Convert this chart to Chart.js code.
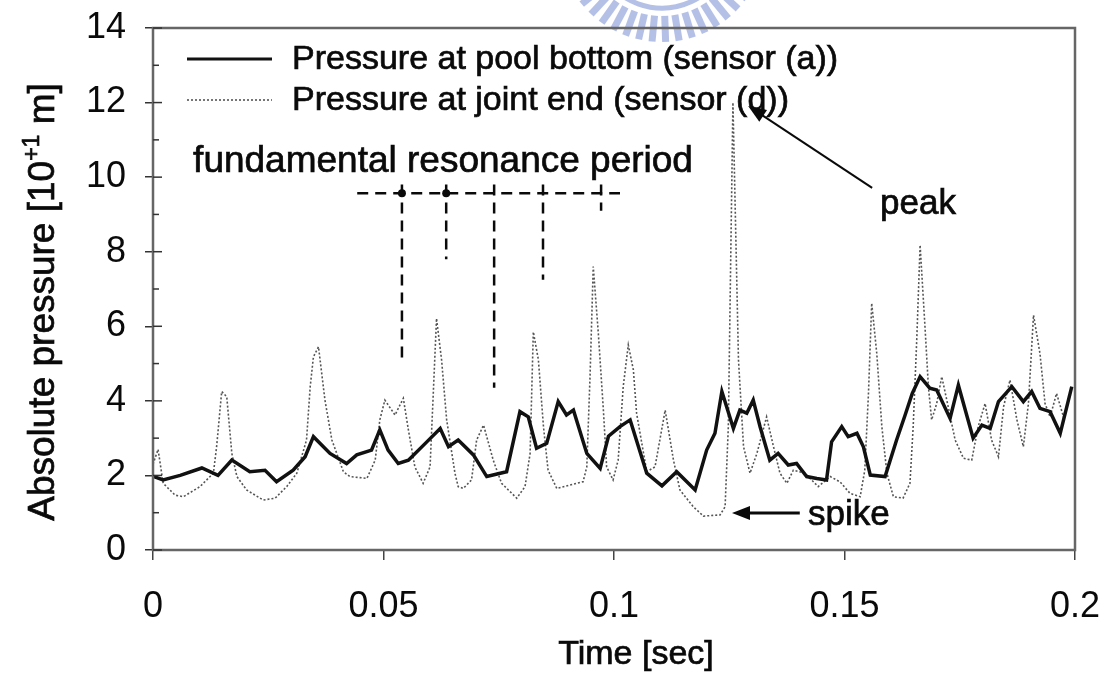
<!DOCTYPE html>
<html>
<head>
<meta charset="utf-8">
<script src="https://cdn.jsdelivr.net/npm/chart.js@4.4.0/dist/chart.umd.min.js"></script>
<style>
  html, body { margin: 0; padding: 0; background: #fff; }
  #wrap { width: 1112px; height: 679px; position: relative; }
</style>
</head>
<body>
<div id="wrap"><canvas id="chart"></canvas></div>
<script>
// Sensor (a): pressure at pool bottom (solid line)
var timeA = [
  0.0002, 0.0022, 0.0059, 0.0106, 0.0141, 0.0171, 0.0210, 0.0243, 0.0268, 0.0304,
  0.0330, 0.0348, 0.0384, 0.0420, 0.0442, 0.0474, 0.0492, 0.0510, 0.0532, 0.0554,
  0.0594, 0.0623, 0.0641, 0.0662, 0.0695, 0.0724, 0.0767, 0.0796, 0.0814, 0.0832,
  0.0854, 0.0879, 0.0897, 0.0912, 0.0941, 0.0970, 0.0988, 0.1013, 0.1035, 0.1071,
  0.1104, 0.1136, 0.1176, 0.1201, 0.1219, 0.1234, 0.1259, 0.1273, 0.1288, 0.1302,
  0.1317, 0.1338, 0.1356, 0.1378, 0.1396, 0.1418, 0.1440, 0.1461, 0.1472, 0.1494,
  0.1508, 0.1527, 0.1541, 0.1556, 0.1588, 0.1613, 0.1631, 0.1647, 0.1664, 0.1685,
  0.1700, 0.1729, 0.1747, 0.1779, 0.1798, 0.1816, 0.1834, 0.1863, 0.1888, 0.1906,
  0.1924, 0.1946, 0.1968, 0.1993
];
var pressureA = [
  1.97, 1.88, 2.00, 2.20, 2.00, 2.41, 2.10, 2.14, 1.83, 2.14,
  2.50, 3.04, 2.59, 2.32, 2.55, 2.68, 3.22, 2.68, 2.32, 2.41,
  2.90, 3.26, 2.77, 2.95, 2.55, 1.97, 2.10, 3.71, 3.57, 2.73,
  2.86, 3.98, 3.62, 3.75, 2.59, 2.19, 3.05, 3.31, 3.49, 2.06,
  1.72, 2.10, 1.61, 2.68, 3.13, 4.25, 3.26, 3.75, 3.67, 4.02,
  3.30, 2.41, 2.59, 2.28, 2.32, 1.97, 1.92, 1.88, 2.90, 3.31,
  3.04, 3.13, 2.77, 2.01, 1.97, 2.95, 3.60, 4.20, 4.65, 4.34,
  4.29, 3.53, 4.42, 3.00, 3.35, 3.26, 3.98, 4.38, 3.98, 4.25,
  3.80, 3.71, 3.13, 4.38
];

// Sensor (d): pressure at joint end (dotted line)
var timeD = [
  0.0000, 0.0011, 0.0022, 0.0048, 0.0066, 0.0102, 0.0131, 0.0138, 0.0149, 0.0160,
  0.0171, 0.0182, 0.0203, 0.0239, 0.0265, 0.0290, 0.0312, 0.0333, 0.0341, 0.0348,
  0.0359, 0.0373, 0.0388, 0.0413, 0.0427, 0.0464, 0.0482, 0.0492, 0.0503, 0.0525,
  0.0543, 0.0554, 0.0568, 0.0586, 0.0601, 0.0608, 0.0615, 0.0626, 0.0637, 0.0655,
  0.0662, 0.0673, 0.0691, 0.0702, 0.0717, 0.0738, 0.0756, 0.0789, 0.0807, 0.0818,
  0.0825, 0.0836, 0.0847, 0.0857, 0.0876, 0.0904, 0.0933, 0.0941, 0.0948, 0.0955,
  0.0966, 0.0977, 0.0984, 0.0998, 0.1009, 0.1020, 0.1031, 0.1042, 0.1049, 0.1071,
  0.1089, 0.1111, 0.1129, 0.1143, 0.1172, 0.1194, 0.1230, 0.1241, 0.1248, 0.1258,
  0.1270, 0.1281, 0.1295, 0.1310, 0.1331, 0.1346, 0.1360, 0.1375, 0.1389, 0.1414,
  0.1443, 0.1469, 0.1490, 0.1512, 0.1534, 0.1544, 0.1552, 0.1559, 0.1570, 0.1581,
  0.1592, 0.1606, 0.1627, 0.1642, 0.1649, 0.1657, 0.1664, 0.1675, 0.1682, 0.1689,
  0.1700, 0.1711, 0.1725, 0.1740, 0.1758, 0.1776, 0.1790, 0.1805, 0.1819, 0.1834,
  0.1845, 0.1859, 0.1874, 0.1888, 0.1899, 0.1910, 0.1924, 0.1935, 0.1946, 0.1960,
  0.1975, 0.1989
];
var pressureD = [
  2.30, 2.70, 1.79, 1.47, 1.43, 1.70, 2.06, 2.77, 4.25, 4.11,
  2.59, 1.97, 1.61, 1.34, 1.39, 1.70, 2.06, 2.95, 4.38, 5.18,
  5.45, 4.02, 2.95, 2.10, 1.97, 1.92, 2.41, 3.49, 4.02, 3.62,
  4.07, 3.22, 2.23, 1.79, 2.23, 4.20, 6.21, 5.10, 3.49, 2.06,
  1.70, 1.65, 1.88, 2.95, 3.35, 2.41, 1.79, 1.39, 1.70, 2.59,
  5.85, 5.10, 3.31, 2.14, 1.65, 1.74, 1.83, 2.23, 4.65, 7.60,
  5.81, 3.75, 2.23, 1.88, 2.41, 4.38, 5.50, 4.83, 3.67, 2.10,
  2.23, 3.75, 2.41, 1.61, 1.16, 0.91, 0.94, 1.16, 3.31, 12.00,
  5.10, 2.77, 2.06, 2.59, 3.57, 2.77, 2.06, 1.79, 2.14, 2.06,
  1.70, 1.97, 1.83, 1.52, 1.43, 2.14, 4.20, 6.62, 5.27, 3.31,
  2.06, 1.43, 1.39, 1.79, 3.31, 5.72, 8.18, 5.90, 4.38, 3.49,
  3.93, 4.65, 3.84, 2.95, 2.46, 2.41, 3.31, 3.93, 2.95, 2.50,
  3.84, 4.56, 3.49, 2.77, 3.93, 6.30, 5.27, 3.93, 3.57, 4.20,
  3.57, 4.20
];

// Resonance period marks (time) and how far each dashed drop reaches (pressure)
var periodTimes = [0.0540, 0.0636, 0.0740, 0.0846, 0.0972];
var periodDrops = [5.10, 7.80, 4.35, 7.25, 9.10];

var xTickLabels = ['0', '0.05', '0.1', '0.15', '0.2'];
var seriesNames = ['Pressure at pool bottom (sensor (a))', 'Pressure at joint end (sensor (d))'];

var FONT = "'Liberation Sans', Arial, sans-serif";
var INK = '#0a0a0a';

function toPoints(xs, ys) {
  return xs.map(function(t, i) { return { x: t, y: ys[i] }; });
}

function arrow(ctx, x1, y1, x2, y2) {
  var ang = Math.atan2(y2 - y1, x2 - x1);
  var len = 18, half = 7;
  ctx.beginPath();
  ctx.moveTo(x1, y1);
  ctx.lineTo(x2 - Math.cos(ang) * len * 0.8, y2 - Math.sin(ang) * len * 0.8);
  ctx.stroke();
  ctx.beginPath();
  ctx.moveTo(x2, y2);
  ctx.lineTo(x2 - Math.cos(ang) * len - Math.sin(ang) * half, y2 - Math.sin(ang) * len + Math.cos(ang) * half);
  ctx.lineTo(x2 - Math.cos(ang) * len + Math.sin(ang) * half, y2 - Math.sin(ang) * len - Math.cos(ang) * half);
  ctx.closePath();
  ctx.fill();
}

// scanned text looks a touch heavier, so fill and lightly stroke it
function inkText(ctx, s, px, py) {
  ctx.fillText(s, px, py);
  ctx.strokeText(s, px, py);
}

var decorations = {
  id: 'decorations',
  beforeDraw: function(chart) {
    // faint watermark arc at top of the scan
    var ctx = chart.ctx;
    ctx.save();
    ctx.strokeStyle = 'rgba(120, 140, 210, 0.55)';
    ctx.lineWidth = 7;
    var cx = 662, cy = -62;
    for (var a = 28; a <= 152; a += 7.5) {
      var r = a * Math.PI / 180;
      ctx.beginPath();
      ctx.moveTo(cx + Math.cos(r) * 78, cy + Math.sin(r) * 78);
      ctx.lineTo(cx + Math.cos(r) * 104, cy + Math.sin(r) * 104);
      ctx.stroke();
    }
    ctx.lineWidth = 5;
    ctx.beginPath();
    ctx.arc(cx, cy, 70, 20 * Math.PI / 180, 160 * Math.PI / 180);
    ctx.stroke();
    ctx.restore();
  },
  afterDraw: function(chart) {
    var ctx = chart.ctx, a = chart.chartArea;
    var x = chart.scales.x, y = chart.scales.y;
    ctx.save();

    // plot frame and inner ticks
    ctx.strokeStyle = '#666';
    ctx.lineWidth = 2.5;
    ctx.strokeRect(a.left, a.top, a.right - a.left, a.bottom - a.top);
    ctx.lineWidth = 1.5;
    ctx.strokeStyle = '#333';
    for (var v = 0; v <= 14; v++) {
      var py = y.getPixelForValue(v);
      ctx.beginPath();
      ctx.moveTo(a.left, py);
      ctx.lineTo(a.left + (v % 2 ? 6 : 9), py);
      ctx.stroke();
    }

    ctx.fillStyle = INK;
    ctx.strokeStyle = INK;
    ctx.lineWidth = 0.7;

    // axis titles
    ctx.textBaseline = 'middle';
    ctx.textAlign = 'center';
    ctx.font = '34px ' + FONT;
    inkText(ctx, 'Time [sec]', 636, 655);

    ctx.save();
    ctx.translate(44, 302);
    ctx.rotate(-Math.PI / 2);
    var mainPart = 'Absolute pressure [10', supPart = '+1', endPart = ' m]';
    ctx.font = '37px ' + FONT;
    var w1 = ctx.measureText(mainPart).width, w3 = ctx.measureText(endPart).width;
    ctx.font = '23px ' + FONT;
    var w2 = ctx.measureText(supPart).width;
    var start = -(w1 + w2 + w3) / 2;
    ctx.textAlign = 'left';
    ctx.font = '37px ' + FONT;
    inkText(ctx, mainPart, start, 0);
    ctx.font = '23px ' + FONT;
    inkText(ctx, supPart, start + w1, -11);
    ctx.font = '37px ' + FONT;
    inkText(ctx, endPart, start + w1 + w2, 0);
    ctx.restore();

    // legend
    var lx = a.left + 34, lw = 85;
    var ly1 = a.top + 31, ly2 = a.top + 72;
    ctx.save();
    ctx.strokeStyle = '#111';
    ctx.lineWidth = 3;
    ctx.beginPath(); ctx.moveTo(lx, ly1); ctx.lineTo(lx + lw, ly1); ctx.stroke();
    ctx.strokeStyle = '#555';
    ctx.lineWidth = 1.6;
    ctx.setLineDash([2, 2]);
    ctx.beginPath(); ctx.moveTo(lx, ly2); ctx.lineTo(lx + lw, ly2); ctx.stroke();
    ctx.restore();
    ctx.font = '34px ' + FONT;
    ctx.textAlign = 'left';
    inkText(ctx, seriesNames[0], a.left + 139, ly1 + 1);
    inkText(ctx, seriesNames[1], a.left + 139, ly2 + 1);

    // fundamental resonance period annotation
    ctx.font = '37px ' + FONT;
    ctx.textBaseline = 'alphabetic';
    inkText(ctx, 'fundamental resonance period', x.getPixelForValue(0.0087), y.getPixelForValue(10.14));
    var hy = y.getPixelForValue(9.57);
    ctx.lineWidth = 2.5;
    ctx.setLineDash([11, 7]);
    ctx.beginPath();
    ctx.moveTo(x.getPixelForValue(0.0443), hy);
    ctx.lineTo(x.getPixelForValue(0.1013), hy);
    ctx.stroke();
    for (var i = 0; i < periodTimes.length; i++) {
      var px = x.getPixelForValue(periodTimes[i]);
      ctx.beginPath();
      ctx.moveTo(px, y.getPixelForValue(9.8));
      ctx.lineTo(px, y.getPixelForValue(periodDrops[i]));
      ctx.stroke();
    }
    ctx.setLineDash([]);
    for (var j = 0; j < 2; j++) {
      ctx.beginPath();
      ctx.arc(x.getPixelForValue(periodTimes[j]), hy, 4, 0, Math.PI * 2);
      ctx.fill();
    }

    // peak and spike labels
    ctx.font = '35px ' + FONT;
    ctx.lineWidth = 0.7;
    inkText(ctx, 'peak', x.getPixelForValue(0.1577), y.getPixelForValue(9.01));
    inkText(ctx, 'spike', x.getPixelForValue(0.1421), y.getPixelForValue(0.67));
    ctx.lineWidth = 2;
    arrow(ctx, x.getPixelForValue(0.1560), y.getPixelForValue(9.71), x.getPixelForValue(0.1291), y.getPixelForValue(11.91));
    ctx.lineWidth = 3;
    arrow(ctx, x.getPixelForValue(0.1403), y.getPixelForValue(0.99), x.getPixelForValue(0.1256), y.getPixelForValue(0.99));

    ctx.restore();
  }
};

new Chart(document.getElementById('chart'), {
  type: 'line',
  data: {
    datasets: [{
      label: seriesNames[0],
      data: toPoints(timeA, pressureA),
      borderColor: '#111',
      borderWidth: 3.5,
      pointRadius: 0,
      tension: 0
    }, {
      label: seriesNames[1],
      data: toPoints(timeD, pressureD),
      borderColor: '#555',
      borderWidth: 1.6,
      borderDash: [2, 2],
      pointRadius: 0,
      tension: 0
    }]
  },
  options: {
    responsive: true,
    maintainAspectRatio: false,
    animation: false,
    layout: { padding: { top: 28, right: 37, left: 0, bottom: 0 } },
    plugins: {
      legend: { display: false },
      tooltip: { enabled: false }
    },
    scales: {
      x: {
        type: 'linear',
        min: 0,
        max: 0.2,
        afterFit: function(s) { s.height = 129; s.paddingRight = 0; s.paddingLeft = 0; },
        border: { display: false },
        grid: { drawOnChartArea: false, tickLength: 10, color: '#444', lineWidth: 1.5 },
        ticks: {
          stepSize: 0.05,
          maxRotation: 0,
          padding: 25,
          color: INK,
          font: { family: FONT, size: 36 },
          callback: function(value, index) { return xTickLabels[index]; }
        }
      },
      y: {
        min: 0,
        max: 14,
        afterFit: function(s) { s.width = 153; s.paddingTop = 0; s.paddingBottom = 0; },
        border: { display: false },
        grid: {
          drawOnChartArea: false,
          tickLength: 8,
          lineWidth: 1.5,
          color: function(c) { return c.tick && c.tick.value % 2 === 0 ? '#333' : 'rgba(0,0,0,0)'; }
        },
        ticks: {
          stepSize: 1,
          padding: 19,
          color: INK,
          font: { family: FONT, size: 36 },
          callback: function(value) { return value % 2 === 0 ? String(value) : ''; }
        }
      }
    }
  },
  plugins: [decorations]
});
</script>
</body>
</html>
